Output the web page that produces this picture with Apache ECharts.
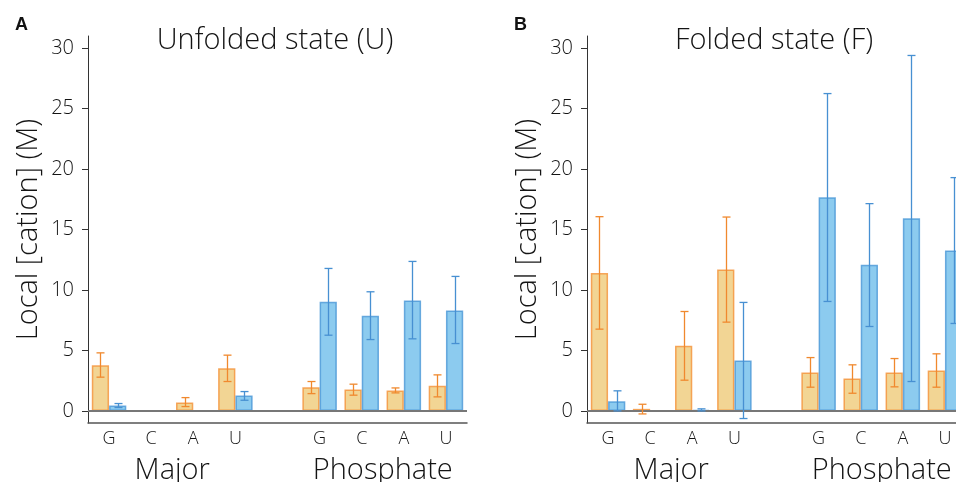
<!DOCTYPE html>
<html>
<head>
<meta charset="utf-8">
<script src="https://cdn.jsdelivr.net/npm/echarts@6/dist/echarts.min.js"></script>
<style>
  html, body { margin: 0; padding: 0; background: #fff; }
  #chart { width: 956px; height: 482px; }
</style>
</head>
<body>
<div id="chart"></div>
<script>
// Category labels: nucleotides at the major-groove site, a spacer, then the phosphate site
const nucleotides = ['G', 'C', 'A', 'U', '', 'G', 'C', 'A', 'U'];
const groups = ['Major', 'Phosphate'];
const groupCenters = [1.5, 6.5];
const yTicks = [0, 5, 10, 15, 20, 25, 30];
const panelTitles = ['Unfolded state (U)', 'Folded state (F)'];
const panelLetters = ['A', 'B'];

// Unfolded state (U)
const unfoldedOrange     = [3.78, 0.04, 0.69, 3.53, null, 1.96, 1.77, 1.68, 2.07];
const unfoldedOrangeLow  = [2.79, null, 0.36, 2.43, null, 1.43, 1.30, 1.49, 1.16];
const unfoldedOrangeHigh = [4.80, null, 1.10, 4.61, null, 2.43, 2.21, 1.90, 2.98];
const unfoldedBlue       = [0.44, 0.00, 0.03, 1.27, null, 9.02, 7.86, 9.13, 8.31];
const unfoldedBlueLow    = [0.28, null, null, 0.88, null, 6.26, 5.90, 5.96, 5.57];
const unfoldedBlueHigh   = [0.61, null, null, 1.60, null, 11.78, 9.85, 12.36, 11.12];

// Folded state (F)
const foldedOrange     = [11.40, 0.17, 5.38, 11.70, null, 3.17, 2.68, 3.17, 3.34];
const foldedOrangeLow  = [6.76, -0.25, 2.54, 7.34, null, 1.96, 1.46, 1.99, 1.96];
const foldedOrangeHigh = [16.06, 0.55, 8.22, 16.03, null, 4.41, 3.81, 4.33, 4.72];
const foldedBlue       = [0.80, 0.00, 0.08, 4.17, null, 17.66, 12.09, 15.93, 13.27];
const foldedBlueLow    = [0.00, null, 0.00, -0.63, null, 9.05, 6.98, 2.43, 7.23];
const foldedBlueHigh   = [1.66, null, 0.17, 8.97, null, 26.24, 17.14, 29.39, 19.29];

const FONT = "'Open Sans', 'Noto Sans', sans-serif";
const LIGHT = 300;
const TEXT = '#141414';
const BAR_FRAC = 0.41;

const ORANGE_FILL = '#f2d594';
const ORANGE_EDGE = 'rgba(244,145,55,0.8)';
const ORANGE_ERR = '#f0892e';
const BLUE_FILL = '#8ccbef';
const BLUE_EDGE = 'rgba(66,146,212,0.75)';
const BLUE_ERR = '#4790d2';

const gridLefts = [88, 587];

function barSeries(idx, values, fill, edge, withZero) {
  const s = {
    type: 'bar',
    xAxisIndex: idx * 2,
    yAxisIndex: idx,
    data: values,
    barWidth: (BAR_FRAC * 100) + '%',
    barGap: '0%',
    itemStyle: { color: fill, borderColor: edge, borderWidth: 1.5 },
    silent: true
  };
  if (withZero) {
    // baseline at zero, drawn over the bar bottoms
    s.markLine = {
      silent: true,
      symbol: 'none',
      label: { show: false },
      lineStyle: { color: '#777', width: 2, type: 'solid' },
      data: [{ yAxis: 0 }]
    };
  }
  return s;
}

// Error bars drawn as a vertical whisker with caps, shifted to sit on its bar
function errorSeries(idx, low, high, side, color) {
  const data = [];
  low.forEach((l, i) => { if (l != null) data.push([i, l, high[i]]); });
  return {
    type: 'custom',
    xAxisIndex: idx * 2,
    yAxisIndex: idx,
    z: 6,
    silent: true,
    data: data,
    encode: { x: 0, y: [1, 2] },
    renderItem(params, api) {
      const i = api.value(0);
      const band = api.size([1, 0])[0];
      const off = side * band * BAR_FRAC / 2;
      const top = api.coord([i, api.value(2)]);
      const bot = api.coord([i, api.value(1)]);
      const x = Math.round(top[0] + off) + 0.5;
      const cap = 4;
      const st = { stroke: color, lineWidth: 1.3 };
      return {
        type: 'group',
        children: [
          { type: 'line', shape: { x1: x, y1: top[1], x2: x, y2: bot[1] }, style: st },
          { type: 'line', shape: { x1: x - cap, y1: top[1], x2: x + cap, y2: top[1] }, style: st },
          { type: 'line', shape: { x1: x - cap, y1: bot[1], x2: x + cap, y2: bot[1] }, style: st }
        ]
      };
    }
  };
}

const grids = gridLefts.map(l => ({
  left: l, top: 36, width: 379, height: 387,
  containLabel: false, outerBoundsMode: 'none'
}));

const xAxes = [];
const yAxes = [];
[0, 1].forEach(idx => {
  xAxes.push({
    type: 'category',
    gridIndex: idx,
    position: 'bottom',
    data: nucleotides,
    boundaryGap: true,
    axisLine: { onZero: false, lineStyle: { color: '#555', width: 1.5 } },
    axisTick: { show: false },
    axisLabel: { fontFamily: FONT, fontWeight: LIGHT, fontSize: 18, color: TEXT, margin: 7, interval: 0 }
  });
  xAxes.push({
    type: 'value',
    gridIndex: idx,
    position: 'bottom',
    min: -0.5,
    max: 8.5,
    axisLine: { show: false, onZero: false },
    axisTick: { show: false },
    splitLine: { show: false },
    axisLabel: {
      customValues: groupCenters,
      formatter: v => groups[groupCenters.indexOf(v)],
      fontFamily: FONT, fontWeight: LIGHT, fontSize: 29, color: TEXT, margin: 33
    }
  });
  yAxes.push({
    type: 'value',
    gridIndex: idx,
    min: -1,
    max: 31,
    name: 'Local [cation] (M)',
    nameLocation: 'middle',
    nameGap: 45,
    nameTextStyle: { fontFamily: FONT, fontWeight: LIGHT, fontSize: 29, color: TEXT },
    axisLine: { show: true, onZero: false, lineStyle: { color: '#333', width: 1 } },
    axisTick: { show: true, length: 6, customValues: yTicks, lineStyle: { color: '#333' } },
    axisLabel: { customValues: yTicks, fontFamily: FONT, fontWeight: LIGHT, fontSize: 20, color: TEXT, margin: 14 },
    splitLine: { show: false }
  });
});

const titles = [];
[0, 1].forEach(idx => {
  titles.push({
    text: panelTitles[idx],
    left: gridLefts[idx] + 182,
    textAlign: 'center',
    top: 21,
    textStyle: { fontFamily: FONT, fontSize: 29, fontWeight: LIGHT, color: TEXT }
  });
  titles.push({
    text: panelLetters[idx],
    left: gridLefts[idx] - 78,
    top: 11,
    textStyle: { fontFamily: "'Liberation Sans', Arial, sans-serif", fontSize: 18, fontWeight: 'bold', color: '#111' }
  });
});

const chart = echarts.init(document.getElementById('chart'), null, { renderer: 'canvas' });
chart.setOption({
  animation: false,
  backgroundColor: '#fff',
  title: titles,
  grid: grids,
  xAxis: xAxes,
  yAxis: yAxes,
  series: [
    barSeries(0, unfoldedOrange, ORANGE_FILL, ORANGE_EDGE, false),
    barSeries(0, unfoldedBlue, BLUE_FILL, BLUE_EDGE, true),
    errorSeries(0, unfoldedOrangeLow, unfoldedOrangeHigh, -1, ORANGE_ERR),
    errorSeries(0, unfoldedBlueLow, unfoldedBlueHigh, 1, BLUE_ERR),
    barSeries(1, foldedOrange, ORANGE_FILL, ORANGE_EDGE, false),
    barSeries(1, foldedBlue, BLUE_FILL, BLUE_EDGE, true),
    errorSeries(1, foldedOrangeLow, foldedOrangeHigh, -1, ORANGE_ERR),
    errorSeries(1, foldedBlueLow, foldedBlueHigh, 1, BLUE_ERR)
  ]
});
</script>
</body>
</html>
